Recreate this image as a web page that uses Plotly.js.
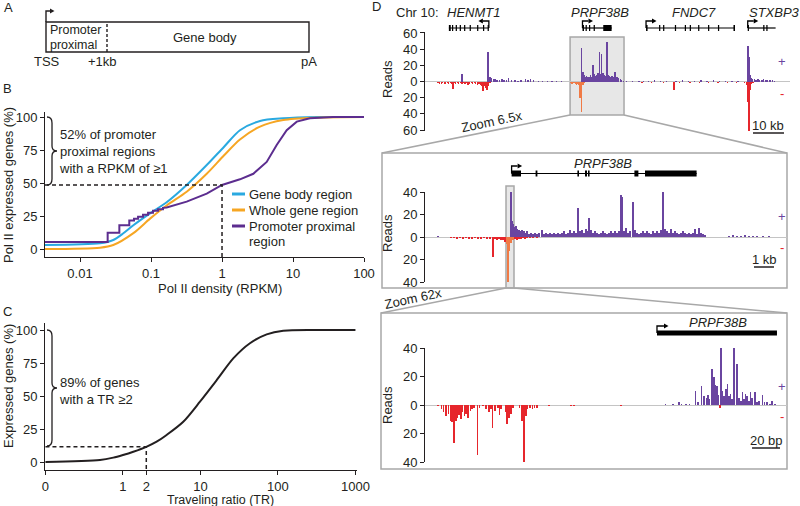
<!DOCTYPE html>
<html>
<head>
<meta charset="utf-8">
<script src="https://cdn.plot.ly/plotly-3.0.1.min.js"></script>
<style>html,body{margin:0;padding:0;background:#fff;}#chart{width:800px;height:506px;}</style>
</head>
<body>
<div id="chart"></div>
<script>
// ---------------- DATA ----------------
// Panel B: cumulative Pol II expressed genes (%) vs Pol II density (RPKM)
const bGeneBodyX = [0.00321, 0.0191, 0.0294, 0.0407, 0.0564, 0.0968, 0.166, 0.318, 0.609, 1.07, 1.79, 3.43, 7.3, 21.6, 100];
const bGeneBodyY = [3.0, 4.3, 6.8, 11.9, 18, 27, 35.4, 48.5, 63.6, 77.5, 90, 97, 99, 100, 100];
const bWholeGeneX = [0.00321, 0.0191, 0.0294, 0.0564, 0.0968, 0.166, 0.318, 0.609, 1.07, 1.79, 3.43, 7.3, 21.6, 100];
const bWholeGeneY = [0, 1, 3, 12, 23, 33, 43.4, 57, 71, 83, 92.7, 97.7, 99.5, 100];
const bPromoterX = [0.00321, 0.0245, 0.0245, 0.0358, 0.0358, 0.0494, 0.0494, 0.0576, 0.0576, 0.0657, 0.0657, 0.0771, 0.0771, 0.0908, 0.0908, 0.1067, 0.1067, 0.1255, 0.1255, 0.1476, 0.1476, 0.166, 0.318, 0.609, 1, 1.79, 2.76, 4.26, 5.89, 8.15, 11.3, 17.3, 36.6, 100];
const bPromoterY = [5.3, 5.3, 12.4, 12.4, 18, 18, 21.5, 21.5, 23, 23, 24.5, 24.5, 26, 26, 27.5, 27.5, 29, 29, 30.2, 30.2, 31.2, 31.5, 35.9, 42, 48.5, 52.8, 57, 66, 78.8, 90, 96.5, 99, 100, 100];
const bSeriesNames = ['Gene body region', 'Whole gene region', 'Promoter proximal', 'region'];
const bThresholdX = [0.00321, 1, 1];
const bThresholdY = [48.5, 48.5, -6.06];
const bTickVals = [0.01, 0.1, 1, 10, 100];
const bTickText = ['0.01', '0.1', '1', '10', '100'];
const bYTicks = [0, 25, 50, 75, 100];

// Panel C: cumulative expressed genes (%) vs traveling ratio
const cTRX = [0.1, 0.505, 0.75, 1, 1.36, 2, 2.72, 3.66, 6.0, 9.86, 16.2, 26.5, 43.5, 71.5, 117, 316, 1000];
const cTRY = [0, 1.5, 3.3, 5.3, 7.8, 11.5, 15.4, 20.5, 30.5, 45.7, 62, 78.5, 90, 96.7, 99.5, 100, 100];
const cThresholdX = [0.1, 2, 2];
const cThresholdY = [11.5, 11.5, -6.06];
const cTickVals = [0.1, 1, 2, 10, 100, 1000];
const cTickText = ['0', '1', '2', '10', '100', '1000'];

// Panel D top track (positions in kb, reads)
const topPlusKb = [11.9, 20.3, 20.6, 21.0, 21.5, 22.0, 22.6, 23.2, 24.0, 24.8,
  25.5, 26.4, 27.0, 28.0, 29.0, 30.0, 31.0, 32.5, 33.2, 34.0,
  35.0, 36.5, 38.0, 39.5, 41.0, 42.5, 44.0,
  50.6, 51.0, 51.4, 51.8, 52.2, 52.6, 53.0, 53.4, 53.8, 54.2,
  54.6, 55.0, 55.4, 55.8, 56.2, 56.6, 57.0, 57.4, 57.8, 58.2,
  58.7, 59.1, 59.5, 59.9, 60.3, 60.7, 61.3, 61.7, 62.1, 62.5,
  63.0, 63.5, 64.0,
  65, 67, 69, 70.5, 72, 74, 76, 78, 81, 83,
  85, 87, 89, 91, 93, 95, 97, 99, 101,
  104.2, 104.5, 104.8, 105.2, 105.7, 106.2, 106.8, 107.4, 108.0, 108.7,
  109.3, 110.0, 110.6, 111.3, 112.0, 112.7];
const topPlusReads = [9, 36, 8, 5, 4, 3, 3, 2, 2, 3,
  2, 2, 4, 2, 2, 1, 2, 3, 2, 3,
  2, 1, 1, 1, 1, 1, 1,
  41, 12, 8, 6, 7, 5, 6, 8, 6, 20,
  9, 7, 8, 10, 37, 9, 34, 10, 8, 7,
  49, 8, 7, 6, 7, 6, 12, 6, 5, 4,
  3, 2, 1,
  1, 1, 1, 1, 1, 2, 1, 1, 1, 2,
  1, 1, 2, 1, 2, 1, 1, 1, 1,
  44, 30, 8, 4, 3, 3, 2, 3, 2, 2,
  3, 2, 2, 2, 2, 1];
const topMinusKb = [4.2, 4.7, 5.2, 5.7, 6.2, 6.7, 7.2, 7.7, 8.2, 8.7,
  9.0,
  9.4, 9.9, 10.4, 10.9, 11.4, 11.9, 12.4, 12.9, 13.4, 13.9,
  14.4, 14.9, 15.4, 15.9, 16.4, 16.9, 17.4, 17.9, 18.4,
  18.7, 19.2, 19.6, 20.0, 20.4, 21.0, 22.0,
  25, 29, 33, 37, 41, 44,
  46.9, 47.3, 47.7, 48.1, 48.5, 48.9, 49.3, 49.7, 50.0, 50.3,
  50.6, 51.0, 51.5, 52.0,
  66, 68, 70, 72, 73, 75, 77, 78.5, 80.3,
  82, 84, 85.5, 87, 88.5, 90, 91.5, 93, 94.5, 96,
  97.5, 99, 100.5, 102, 103,
  103.8, 104.2, 104.5, 104.8, 105.2, 105.8, 106.5];
const topMinusReads = [2, 3, 3, 2, 3, 3, 2, 3, 2, 3,
  9,
  2, 3, 2, 3, 2, 3, 2, 3, 2, 4,
  3, 2, 3, 2, 3, 4, 3, 4, 5,
  12, 6, 8, 10, 5, 2, 1,
  1, 1, 1, 1, 1, 1,
  2, 3, 3, 2, 3, 4, 3, 4, 20, 5,
  38, 4, 2, 1,
  1, 1, 2, 1, 2, 1, 2, 1, 11,
  2, 1, 2, 1, 2, 1, 2, 1, 2, 1,
  2, 1, 2, 1, 2,
  4, 25, 62, 10, 3, 2, 1];

// Panel D middle track (kb)
const midPlusKb = [0.65, 4.3, 4.36, 4.42, 4.48, 4.55, 4.62, 4.7, 4.78, 4.86,
  4.94, 5.02, 5.1, 5.2, 5.3, 5.4, 5.5, 5.6, 5.7, 5.85,
  5.95, 6.05, 6.15, 6.25, 6.35, 6.45, 6.55, 6.65, 6.75, 6.85,
  6.95, 7.05, 7.15, 7.25, 7.35, 7.45, 7.55, 7.65, 7.75, 7.85,
  7.95, 8.05, 8.15, 8.2, 8.3, 8.4, 8.5, 8.6, 8.7, 8.8,
  8.9, 9.0, 9.1, 9.2, 9.3, 9.4, 9.5, 9.6, 9.7, 9.8,
  9.85, 9.95, 10.05, 10.15, 10.25, 10.4, 10.5, 10.6, 10.7, 10.8,
  10.9, 11.0, 11.1, 11.2, 11.3, 11.4, 11.5, 11.6, 11.7, 11.8,
  11.9, 12.0, 12.1, 12.2, 12.3, 12.4, 12.5, 12.6, 12.7, 12.8,
  12.9, 13.0, 13.1, 13.2, 13.3, 13.4, 13.5, 13.6, 13.7, 13.8,
  13.9, 14.0, 15.2, 15.4, 15.6, 15.8, 16.0, 16.2, 16.4, 16.6,
  16.9, 17.2];
const midPlusReads = [1, 42, 14, 12, 9, 10, 7, 6, 5, 6,
  5, 4, 5, 3, 4, 3, 4, 3, 4, 6,
  3, 4, 3, 4, 3, 4, 3, 4, 3, 4,
  5, 3, 4, 6, 4, 5, 4, 26, 5, 6,
  4, 7, 5, 17, 6, 4, 5, 4, 3, 4,
  5, 4, 3, 4, 5, 4, 5, 4, 5, 37,
  36, 5, 8, 4, 5, 31, 6, 4, 3, 4,
  5, 4, 5, 4, 3, 5, 4, 5, 4, 6,
  48, 7, 5, 4, 7, 4, 5, 4, 3, 4,
  5, 4, 3, 4, 3, 4, 7, 3, 8, 4,
  3, 2, 1, 2, 1, 1, 2, 1, 1, 1,
  1, 1];
const midMinusKb = [1.3, 1.45, 1.6, 1.75, 1.9, 2.05, 2.2, 2.35, 2.5, 2.65,
  2.8, 2.95, 3.1, 3.25, 3.4, 3.5, 3.6, 3.7, 3.8, 3.9,
  4.0, 4.08, 4.15, 4.22, 4.3, 4.4, 4.5, 4.6, 4.7, 4.8,
  4.9, 5.0, 5.1, 5.25, 5.4, 5.6];
const midMinusReads = [1, 1, 2, 1, 2, 1, 2, 2, 1, 2,
  2, 1, 2, 2, 18, 2, 3, 2, 3, 3,
  4, 6, 40, 12, 5, 3, 2, 3, 2, 2,
  1, 2, 1, 1, 1, 1];

// Panel D bottom track (bp)
const botPlusBp = [171.7, 177.1, 181.4, 183.1, 186.2, 189.0, 193.3, 195.0, 197.4, 199.3,
  201.0, 202.1, 203.3, 205.0, 206.2, 207.4, 208.6, 209.3, 211.2, 212.4,
  213.6, 214.8, 216.0, 217.1, 218.3, 219.5, 220.7, 222.9, 224.3, 225.5,
  226.7, 227.9, 229.0, 230.2, 231.4, 232.6, 233.8, 235.5, 237.1, 238.6,
  241.0, 242.6, 244.5, 246.2, 247.9, 249.8];
const botPlusReads = [1, 1, 2, 1, 1, 1, 10, 2, 13, 6,
  5, 7, 4, 25, 20, 14, 13, 7, 40, 10,
  6, 11, 15, 6, 8, 4, 41, 29, 5, 3,
  9, 4, 8, 6, 3, 9, 5, 9, 2, 3,
  7, 2, 2, 1, 3, 1];
const botMinusBp = [9.3, 11.7, 13.3, 15.2, 16.7, 18.1, 19.5, 20.5, 21.9, 23.1,
  24.3, 25.5, 26.7, 28.1, 29.5, 30.9, 32.4, 33.8, 35.2, 37.4,
  39.0, 41.4, 43.8, 45.7, 46.9, 48.1, 49.8, 52.1, 53.3, 54.5,
  57.6, 58.8, 60.0, 61.2, 62.9, 67.6, 69.3, 70.7, 71.9, 73.1,
  74.8, 76.7, 78.3, 80.0, 88.6, 104.5, 106.2, 140.2, 210.5];
const botMinusReads = [1, 3, 5, 8, 6, 11, 12, 27, 11, 9,
  7, 10, 5, 8, 6, 9, 4, 3, 2, 35,
  2, 1, 3, 5, 3, 16, 4, 2, 7, 3,
  5, 13, 9, 6, 2, 2, 11, 40, 8, 3,
  2, 3, 2, 2, 1, 1, 1, 1, 2];

// gene models
const topGenes = [
  {name: 'HENMT1', start: 7.7, end: 20.6, strand: '-', exons: [[7.7, 8.3], [8.7, 9.1], [9.9, 10.3], [11.2, 11.6], [12.6, 13.0], [14.4, 14.8], [16.8, 17.2], [18.7, 19.1], [20.2, 20.6]]},
  {name: 'PRPF38B', start: 50.8, end: 60.2, strand: '+', exons: [[50.8, 51.3], [51.8, 52.2], [52.9, 53.3], [54.4, 54.8], [57.5, 60.2]]},
  {name: 'FNDC7', start: 71.3, end: 100, strand: '+', exons: [[71.3, 71.8], [75.5, 75.9], [76.8, 77.2], [80.6, 81.0], [83.8, 84.2], [85.4, 85.8], [88.1, 88.5], [91.3, 91.7], [94.5, 94.9], [99.5, 100]]},
  {name: 'STXBP3', start: 104.1, end: 113.1, strand: '+', exons: [[104.1, 104.5], [109.1, 109.5], [110.1, 110.5]]}
];
const midGene = {name: 'PRPF38B', start: 4.33, end: 13.58, strand: '+', exons: [[4.33, 4.8], [5.53, 5.62], [7.62, 7.7], [8.0, 8.1], [8.15, 8.23], [10.47, 10.67], [11.0, 13.58]]};
const botGene = {name: 'PRPF38B', start: 165.7, end: 251.4, strand: '+', exons: [[165.7, 251.4]]};
const topZoomWindowKb = [46.8, 64.2];
const midZoomWindowKb = [4.05, 4.45];
const scaleTopKb = [105.8, 115.8];
const scaleMidKb = [16.45, 17.45];
const scaleBotBp = [233.6, 253.6];
const dTickVals6 = [-60, -40, -20, 0, 20, 40, 60];
const dTickText6 = ['60', '40', '20', '0', '20', '40', '60'];
const dTickVals4 = [-40, -20, 0, 20, 40];
const dTickText4 = ['40', '20', '0', '20', '40'];

// ---------------- STYLE / HELPERS ----------------
const W = 800, H = 506;
const FONT = 'Liberation Sans, Arial, Helvetica, sans-serif';
const INK = '#231f20';
const BLUE = '#2aa9e0', ORANGE = '#f6a623', PURPLE = '#5c2d8f';
const BAR_PURPLE = '#6a45a0', BAR_RED = '#e6262c', BAR_ORANGE = '#f07a45';
const BOXFILL = '#e7e7e7', BOXLINE = '#a8a8a8';
const fx = x => x / W;
const fy = y => 1 - y / H;
const P = (x, y) => fx(x).toFixed(5) + ',' + fy(y).toFixed(5);
const neg = a => a.map(v => -v);

function txt(text, x, y, o) {
  o = o || {};
  return {text: text, x: o.xref ? x : fx(x), y: fy(y), xref: o.xref || 'paper', yref: 'paper',
    showarrow: false, xanchor: o.xa || 'center', yanchor: 'middle', align: o.align || 'left',
    textangle: o.angle || 0, borderpad: 0,
    font: {family: FONT, size: o.size || 13, color: o.color || INK}};
}

// ---------------- TRACES ----------------
const traces = [];
traces.push({x: bGeneBodyX, y: bGeneBodyY, xaxis: 'x', yaxis: 'y', mode: 'lines', line: {color: BLUE, width: 2, shape: 'spline', smoothing: 0.8}});
traces.push({x: bWholeGeneX, y: bWholeGeneY, xaxis: 'x', yaxis: 'y', mode: 'lines', line: {color: ORANGE, width: 2, shape: 'spline', smoothing: 0.8}});
traces.push({x: bPromoterX, y: bPromoterY, xaxis: 'x', yaxis: 'y', mode: 'lines', line: {color: PURPLE, width: 2}});
traces.push({x: bThresholdX, y: bThresholdY, xaxis: 'x', yaxis: 'y', mode: 'lines', line: {color: INK, width: 1.5, dash: '4px,3px'}, cliponaxis: false});
traces.push({x: cTRX, y: cTRY, xaxis: 'x2', yaxis: 'y2', mode: 'lines', line: {color: INK, width: 2, shape: 'spline', smoothing: 0.8}});
traces.push({x: cThresholdX, y: cThresholdY, xaxis: 'x2', yaxis: 'y2', mode: 'lines', line: {color: INK, width: 1.5, dash: '4px,3px'}, cliponaxis: false});

function bars(x, y, xa, ya, color, width) {
  return {type: 'bar', x: x, y: y, xaxis: xa, yaxis: ya, width: width, cliponaxis: false,
    marker: {color: color, line: {width: 0}}};
}
const inWin = (w, k) => k >= w[0] && k <= w[1];
traces.push(bars(topPlusKb, topPlusReads, 'x3', 'y3', BAR_PURPLE, 0.4));
traces.push(bars(topMinusKb, neg(topMinusReads), 'x3', 'y3', topMinusKb.map(k => inWin(topZoomWindowKb, k) ? BAR_ORANGE : BAR_RED), 0.4));
traces.push(bars(midPlusKb, midPlusReads, 'x4', 'y4', BAR_PURPLE, 0.075));
traces.push(bars(midMinusKb, neg(midMinusReads), 'x4', 'y4', midMinusKb.map(k => inWin(midZoomWindowKb, k) ? BAR_ORANGE : BAR_RED), 0.075));
traces.push(bars(botPlusBp, botPlusReads, 'x5', 'y5', BAR_PURPLE, 1.2));
traces.push(bars(botMinusBp, neg(botMinusReads), 'x5', 'y5', BAR_RED, 1.2));

// ---------------- AXES ----------------
const baseAx = {showgrid: false, zeroline: false, showline: true, linecolor: INK, linewidth: 1,
  ticks: 'outside', ticklen: 4, tickwidth: 1, tickcolor: INK, fixedrange: true,
  tickfont: {family: FONT, size: 13, color: INK}};
const hiddenX = {showgrid: false, zeroline: false, showline: false, ticks: '', showticklabels: false, fixedrange: true};
const dY = {showgrid: false, showline: true, linecolor: INK, linewidth: 1, ticks: 'outside', ticklen: 4,
  tickwidth: 1, tickcolor: INK, fixedrange: true, tickfont: {family: FONT, size: 13, color: INK},
  zeroline: true, zerolinecolor: '#c4c4c4', zerolinewidth: 1};

const layout = {
  width: W, height: H, margin: {l: 0, r: 0, t: 0, b: 0},
  paper_bgcolor: '#fff', plot_bgcolor: 'rgba(0,0,0,0)', showlegend: false, hovermode: false,
  barmode: 'overlay', bargap: 0,
  xaxis: Object.assign({}, baseAx, {type: 'log', domain: [fx(45), fx(364)], range: [Math.log10(0.00321), 2], tickvals: bTickVals, ticktext: bTickText, anchor: 'y'}),
  yaxis: Object.assign({}, baseAx, {domain: [fy(257), fy(112)], range: [-6.06, 103.8], tickvals: bYTicks, anchor: 'x'}),
  xaxis2: Object.assign({}, baseAx, {type: 'log', domain: [fx(45), fx(357)], range: [-1.006, 3.02], tickvals: cTickVals, ticktext: cTickText, anchor: 'y2'}),
  yaxis2: Object.assign({}, baseAx, {domain: [fy(470), fy(323)], range: [-6.06, 105.3], tickvals: bYTicks, anchor: 'x2'}),
  xaxis3: Object.assign({}, hiddenX, {domain: [fx(425), fx(790)], range: [0, 117.74], anchor: 'y3'}),
  yaxis3: Object.assign({}, dY, {domain: [fy(131), fy(32)], range: [-61.2, 61.2], tickvals: dTickVals6, ticktext: dTickText6, anchor: 'x3'}),
  xaxis4: Object.assign({}, hiddenX, {domain: [fx(425), fx(787)], range: [0, 18.1], anchor: 'y4'}),
  yaxis4: Object.assign({}, dY, {domain: [fy(282), fy(192)], range: [-40, 40], tickvals: dTickVals4, ticktext: dTickText4, anchor: 'x4'}),
  xaxis5: Object.assign({}, hiddenX, {domain: [fx(425), fx(787)], range: [0, 258.57], anchor: 'y5'}),
  yaxis5: Object.assign({}, dY, {domain: [fy(462), fy(348)], range: [-40, 40], tickvals: dTickVals4, ticktext: dTickText4, anchor: 'x5'}),
  shapes: [], annotations: []
};
const S = layout.shapes, A = layout.annotations;

// ---------------- PANEL A ----------------
S.push({type: 'rect', xref: 'paper', yref: 'paper', x0: fx(46), x1: fx(309), y0: fy(52), y1: fy(22), line: {color: INK, width: 1.4}});
S.push({type: 'line', xref: 'paper', yref: 'paper', x0: fx(107), x1: fx(107), y0: fy(52), y1: fy(22), line: {color: INK, width: 1.4, dash: '3px,2px'}});
S.push({type: 'path', xref: 'paper', yref: 'paper', path: 'M' + P(46, 22) + ' L' + P(46, 11) + ' L' + P(50, 11), line: {color: INK, width: 1.4}});
S.push({type: 'path', xref: 'paper', yref: 'paper', path: 'M' + P(50, 8.5) + ' L' + P(54.5, 11) + ' L' + P(50, 13.5) + ' Z', fillcolor: INK, line: {width: 0}});
A.push(txt('A', 3, 7, {xa: 'left'}));
A.push(txt('Promoter', 49, 30.5, {xa: 'left', size: 12.5}));
A.push(txt('proximal', 49, 44.5, {xa: 'left', size: 12.5}));
A.push(txt('Gene body', 205, 37));
A.push(txt('TSS', 47, 62));
A.push(txt('+1kb', 102, 62));
A.push(txt('pA', 309, 62));

// ---------------- PANEL B ----------------
A.push(txt('B', 2, 89, {xa: 'left'}));
function brace(top, mid, bot) {
  return 'M' + P(47, top) + ' Q' + P(52, top) + ' ' + P(52, top + 6) + ' L' + P(52, mid - 5) +
    ' Q' + P(52, mid) + ' ' + P(57, mid) + ' Q' + P(52, mid) + ' ' + P(52, mid + 5) +
    ' L' + P(52, bot - 6) + ' Q' + P(52, bot) + ' ' + P(47, bot);
}
S.push({type: 'path', xref: 'paper', yref: 'paper', path: brace(117, 151, 185), line: {color: INK, width: 1.3}});
A.push(txt('52% of promoter<br>proximal regions<br>with a RPKM of ≥1', 58, 151, {xa: 'left'}));
const legY = [194, 210, 226];
[BLUE, ORANGE, PURPLE].forEach((c, i) => {
  S.push({type: 'line', xref: 'paper', yref: 'paper', x0: fx(232), x1: fx(245), y0: fy(legY[i]), y1: fy(legY[i]), line: {color: c, width: 3}});
});
A.push(txt(bSeriesNames[0], 248, legY[0], {xa: 'left'}));
A.push(txt(bSeriesNames[1], 248, legY[1], {xa: 'left'}));
A.push(txt(bSeriesNames[2], 248, legY[2], {xa: 'left'}));
A.push(txt(bSeriesNames[3], 248, 241, {xa: 'left'}));
A.push(txt('Pol II expressed genes (%)', 8, 185, {angle: -90}));
A.push(txt('Pol II density (RPKM)', 220, 288));

// ---------------- PANEL C ----------------
A.push(txt('C', 2, 311, {xa: 'left'}));
S.push({type: 'path', xref: 'paper', yref: 'paper', path: brace(330, 388, 446), line: {color: INK, width: 1.3}});
A.push(txt('89% of genes<br>with a TR ≥2', 58, 391, {xa: 'left'}));
A.push(txt('Expressed genes (%)', 8, 386, {angle: -90}));
A.push(txt('Traveling ratio (TR)', 220, 499.5, {size: 12.5}));

// ---------------- PANEL D ----------------
A.push(txt('D', 371, 6, {xa: 'left'}));
A.push(txt('Chr 10:', 395, 13, {xa: 'left'}));
const topNameX = [473, 600, 694, 774];
topGenes.forEach((g, i) => A.push(txt('<i>' + g.name + '</i>', topNameX[i], 13)));
A.push(txt('<i>' + midGene.name + '</i>', 603, 163));
A.push(txt('<i>' + botGene.name + '</i>', 718, 322));

function geneShapes(g, xref, ypx, half, h, L, thick) {
  const yc = fy(ypx);
  S.push({type: 'line', xref: xref, yref: 'paper', x0: g.start, x1: g.end, y0: yc, y1: yc, line: {color: '#000', width: thick}});
  g.exons.forEach(e => S.push({type: 'rect', xref: xref, yref: 'paper', x0: e[0], x1: e[1],
    ysizemode: 'pixel', yanchor: yc, y0: -half, y1: half, fillcolor: '#000', line: {width: 0}}));
  const tss = g.strand === '+' ? g.start : g.end;
  const s = g.strand === '+' ? 1 : -1;
  S.push({type: 'path', xref: xref, yref: 'paper', xsizemode: 'pixel', ysizemode: 'pixel', xanchor: tss, yanchor: yc,
    path: 'M0,0 L0,' + h + ' L' + (s * L) + ',' + h, line: {color: '#000', width: 1.3}});
  S.push({type: 'path', xref: xref, yref: 'paper', xsizemode: 'pixel', ysizemode: 'pixel', xanchor: tss, yanchor: yc,
    path: 'M' + (s * L) + ',' + (h + 2.6) + ' L' + (s * (L + 4.5)) + ',' + h + ' L' + (s * L) + ',' + (h - 2.6) + ' Z',
    fillcolor: '#000', line: {width: 0}});
}

// zoom boxes / frames / connectors (below traces)
S.push({type: 'rect', xref: 'x3', yref: 'paper', x0: topZoomWindowKb[0], x1: topZoomWindowKb[1], y0: fy(115), y1: fy(37), fillcolor: BOXFILL, line: {color: BOXLINE, width: 1.5}, layer: 'below'});
S.push({type: 'rect', xref: 'x4', yref: 'paper', x0: midZoomWindowKb[0], x1: midZoomWindowKb[1], y0: fy(288), y1: fy(186), fillcolor: BOXFILL, line: {color: BOXLINE, width: 1.5}, layer: 'below'});
S.push({type: 'rect', xref: 'paper', yref: 'paper', x0: fx(382), x1: fx(787), y0: fy(288), y1: fy(153), line: {color: BOXLINE, width: 1.5}, layer: 'below'});
S.push({type: 'rect', xref: 'paper', yref: 'paper', x0: fx(381), x1: fx(787), y0: fy(469), y1: fy(313), line: {color: BOXLINE, width: 1.5}, layer: 'below'});
S.push({type: 'line', xref: 'paper', yref: 'paper', x0: fx(570), y0: fy(115), x1: fx(382), y1: fy(153), line: {color: BOXLINE, width: 1.5}});
S.push({type: 'line', xref: 'paper', yref: 'paper', x0: fx(624), y0: fy(115), x1: fx(787), y1: fy(153), line: {color: BOXLINE, width: 1.5}});
S.push({type: 'line', xref: 'paper', yref: 'paper', x0: fx(506), y0: fy(288), x1: fx(381), y1: fy(313), line: {color: BOXLINE, width: 1.5}});
S.push({type: 'line', xref: 'paper', yref: 'paper', x0: fx(514), y0: fy(288), x1: fx(787), y1: fy(313), line: {color: BOXLINE, width: 1.5}});
A.push(txt('Zoom 6.5x', 492, 122, {angle: -12}));
A.push(txt('Zoom 62x', 413, 298, {angle: -12}));

topGenes.forEach(g => geneShapes(g, 'x3', 28, 3, 7, 6, 1.2));
geneShapes(midGene, 'x4', 173.5, 3, 7.5, 6, 1.2);
geneShapes(botGene, 'x5', 333, 2.6, 7, 7, 1.2);

// scale bars
[[scaleTopKb, 'x3', 133, 125, '10 kb'], [scaleMidKb, 'x4', 267, 259, '1 kb'], [scaleBotBp, 'x5', 448, 440, '20 bp']].forEach(sb => {
  S.push({type: 'line', xref: sb[1], yref: 'paper', x0: sb[0][0], x1: sb[0][1], y0: fy(sb[2]), y1: fy(sb[2]), line: {color: INK, width: 1.5}});
  A.push(txt(sb[4], (sb[0][0] + sb[0][1]) / 2, sb[3], {xref: sb[1]}));
});

// strand labels + Reads titles
[[62, 93], [217, 247], [386, 416]].forEach(p => {
  A.push(txt('+', 782, p[0], {color: BAR_PURPLE}));
  A.push(txt('-', 782, p[1], {color: BAR_RED}));
});
A.push(txt('Reads', 387, 79, {angle: -90}));
A.push(txt('Reads', 387, 233, {angle: -90}));
A.push(txt('Reads', 387, 405, {angle: -90}));

Plotly.newPlot('chart', traces, layout, {staticPlot: true, displayModeBar: false});
</script>
</body>
</html>
